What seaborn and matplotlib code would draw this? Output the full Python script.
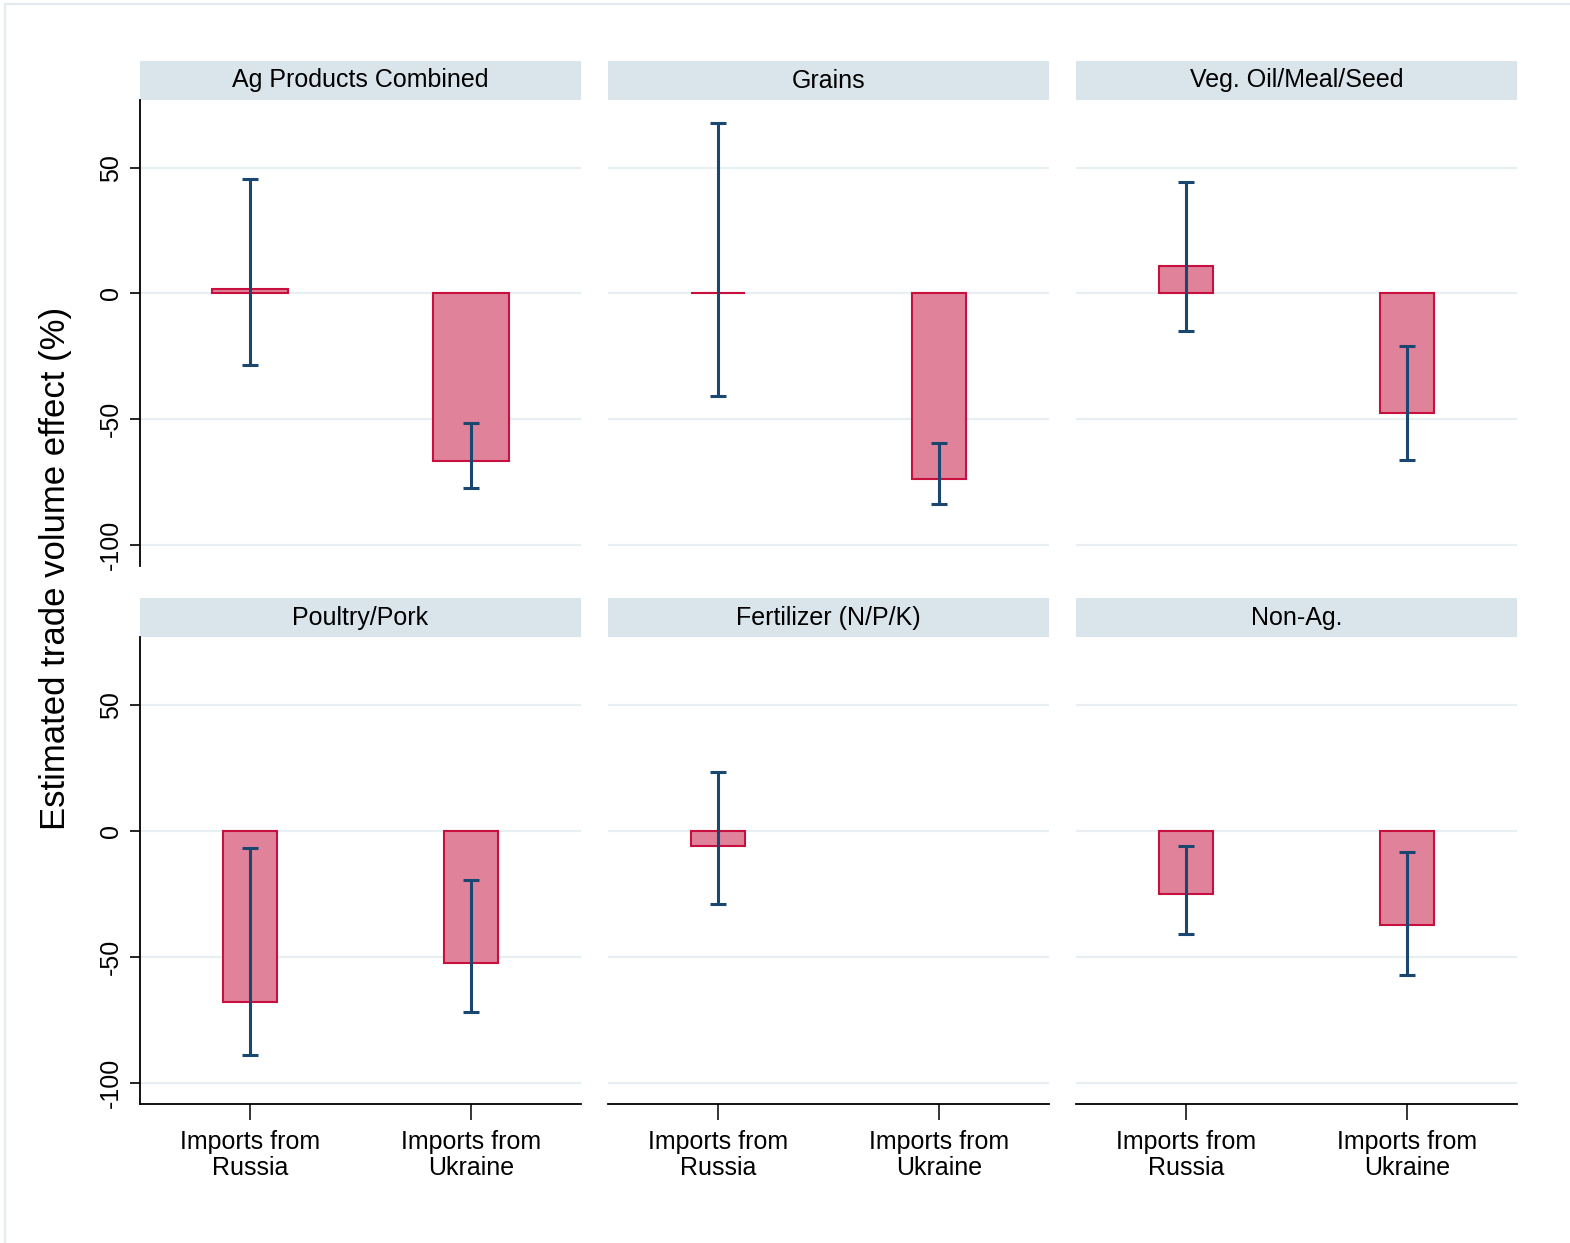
import numpy as np
import pandas as pd
import matplotlib
matplotlib.use("Agg")
import matplotlib.pyplot as plt
from matplotlib.patches import Rectangle
import seaborn as sns

# Estimated trade volume effects (%) with 95% confidence bounds
panels = ["Ag Products Combined", "Grains", "Veg. Oil/Meal/Seed",
          "Poultry/Pork", "Fertilizer (N/P/K)", "Non-Ag."]
sources = ["Imports from\nRussia", "Imports from\nUkraine"]

russia_est = [1.7, 0.0, 10.8, -68.0, -6.0, -25.2]
russia_lo = [-28.5, -41.0, -14.8, -89.2, -29.1, -41.0]
russia_hi = [45.5, 67.8, 44.5, -7.0, 23.5, -5.9]

ukraine_est = [-66.8, -73.8, -47.6, -52.4, np.nan, -37.3]
ukraine_lo = [-77.6, -83.8, -66.2, -72.0, np.nan, -57.2]
ukraine_hi = [-51.7, -59.4, -20.8, -19.4, np.nan, -8.6]

y_ticks = [-100, -50, 0, 50]

rows = []
for i, p in enumerate(panels):
    rows.append(dict(panel=p, source=sources[0], est=russia_est[i],
                     lo=russia_lo[i], hi=russia_hi[i]))
    rows.append(dict(panel=p, source=sources[1], est=ukraine_est[i],
                     lo=ukraine_lo[i], hi=ukraine_hi[i]))
df = pd.DataFrame(rows)

sns.set_theme(style="white")
plt.rcParams["font.family"] = ["Liberation Sans", "DejaVu Sans"]
plt.rcParams["axes.unicode_minus"] = False

BAR_FILL = "#e0829a"
BAR_EDGE = "#c8103e"
CI_COLOR = "#1a476f"
GRID = "#e8eff2"
STRIP = "#d9e5eb"

W, H = 1570, 1243
fig = plt.figure(figsize=(W / 100, H / 100), dpi=100)
fig.patch.set_facecolor("white")

# thin outer frame
fig.add_artist(Rectangle((5 / W, -0.1), 1.2, 1.1 - 4 / H,
                         transform=fig.transFigure, fill=False,
                         edgecolor="#e4ecf0", linewidth=1.6))

col_left = [140, 608, 1076]
ax_w = 441
row_top = [100, 637]
row_bot = [566, 1104]
strip_h = 39

for k, p in enumerate(panels):
    r, c = divmod(k, 3)
    left = col_left[c] / W
    bottom = 1 - row_bot[r] / H
    height = (row_bot[r] - row_top[r]) / H
    ax = fig.add_axes([left, bottom, ax_w / W, height])
    sub = df[df["panel"] == p]
    bar_w = 0.345 if k == 0 else 0.245
    sns.barplot(data=sub, x="source", y="est", order=sources, ax=ax,
                color=BAR_FILL, saturation=1, width=bar_w, errorbar=None,
                edgecolor=BAR_EDGE, linewidth=1.5, zorder=2)
    for j, s in enumerate(sources):
        row = sub[sub["source"] == s].iloc[0]
        if np.isnan(row["est"]):
            continue
        ax.errorbar(j, row["est"],
                    yerr=[[row["est"] - row["lo"]], [row["hi"] - row["est"]]],
                    fmt="none", ecolor=CI_COLOR, elinewidth=2.2,
                    capsize=6, capthick=2.2, zorder=3)
    ax.set_xlim(-0.5, 1.5)
    ax.set_ylim(-108.5, 77)
    ax.set_yticks(y_ticks)
    for yt in y_ticks:
        ax.axhline(yt, color=GRID, linewidth=1.6, zorder=0)
    ax.set_xlabel("")
    ax.set_ylabel("")
    for sp in ["top", "right"]:
        ax.spines[sp].set_visible(False)
    ax.spines["left"].set_visible(c == 0)
    ax.spines["bottom"].set_visible(r == 1)
    for sp in ["left", "bottom"]:
        ax.spines[sp].set_color("black")
        ax.spines[sp].set_linewidth(1.3)
    if c == 0:
        ax.tick_params(axis="y", left=True, length=7, width=1.2,
                       labelsize=18, pad=5, colors="black")
        for t in ax.get_yticklabels():
            t.set_rotation(90)
            t.set_va("center")
    else:
        ax.tick_params(axis="y", left=False, labelleft=False)
    if r == 1:
        ax.tick_params(axis="x", bottom=True, length=11.5, width=1.1,
                       labelsize=18, pad=7, colors="black")
        for t in ax.get_xticklabels():
            t.set_linespacing(1.1)
    else:
        ax.tick_params(axis="x", bottom=False, labelbottom=False)
    ax.set_facecolor("white")
    # facet strip
    sh = strip_h / (row_bot[r] - row_top[r])
    ax.add_patch(Rectangle((0, 1.0), 1, sh, transform=ax.transAxes,
                           facecolor=STRIP, edgecolor="none", clip_on=False))
    ax.text(0.5, 1 + sh / 2, p, transform=ax.transAxes, ha="center",
            va="center", fontsize=18, color="black")

fig.text(56 / W, 1 - 568 / H, "Estimated trade volume effect (%)",
         rotation=90, ha="center", va="center", fontsize=25, color="black")

fig.savefig("out.png", dpi=100, facecolor="white")
